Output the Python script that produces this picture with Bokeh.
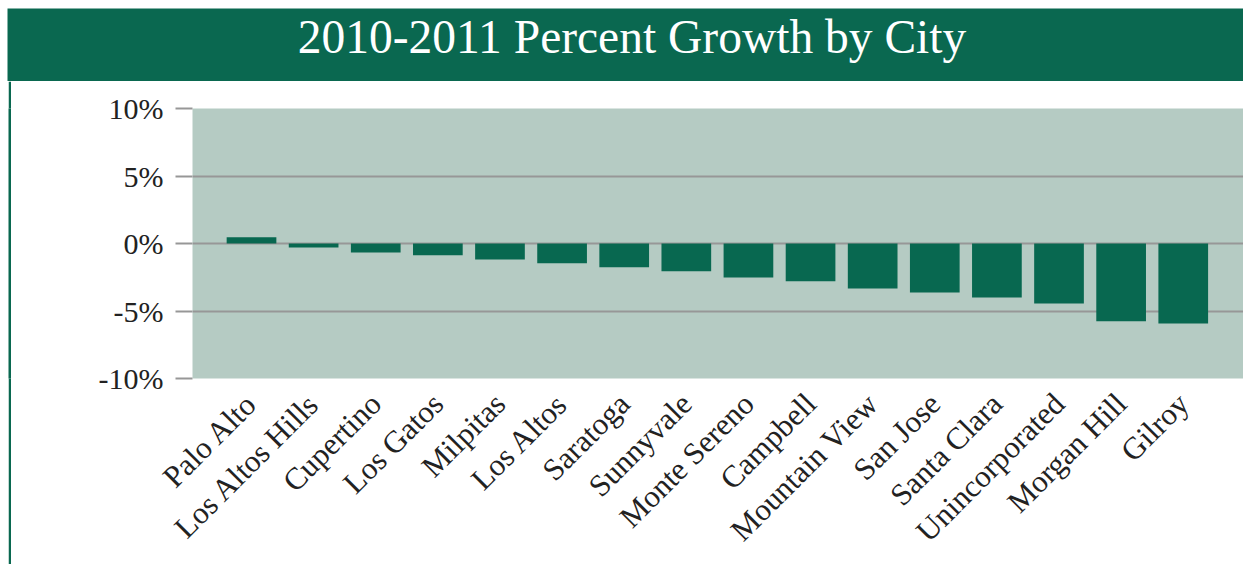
import math
from bokeh.plotting import figure
from bokeh.layouts import column, row
from bokeh.models import ColumnDataSource, Range1d, FixedTicker, PrintfTickFormatter, Spacer
from bokeh.core.properties import value
from bokeh.embed import file_html
from bokeh.resources import INLINE

cities = ["Palo Alto", "Los Altos Hills", "Cupertino", "Los Gatos", "Milpitas",
          "Los Altos", "Saratoga", "Sunnyvale", "Monte Sereno", "Campbell",
          "Mountain View", "San Jose", "Santa Clara", "Unincorporated",
          "Morgan Hill", "Gilroy"]
growth = [0.47, -0.3, -0.67, -0.87, -1.19, -1.46, -1.75, -2.05, -2.52, -2.8,
          -3.33, -3.63, -4.0, -4.44, -5.75, -5.93]
y_ticks = [-10, -5, 0, 5, 10]
title_text = "2010-2011 Percent Growth by City"

GREEN = "#0a6850"
BAR = "#086850"
BG = "#b5cbc3"
GRID = "#979797"
FONT = "Liberation Serif"

# Banner
banner = figure(width=1236, height=73, x_range=Range1d(0, 1236), y_range=Range1d(0, 73),
                title=None,
                output_backend="svg", toolbar_location=None, min_border=0,
                background_fill_color=GREEN, border_fill_color=GREEN, outline_line_color=None)
banner.axis.visible = False
banner.grid.visible = False
banner.text(x=[624.5], y=[45], text=[title_text], text_color="white",
            text_font=value(FONT), text_font_size="47.5px",
            text_align="center", text_baseline="alphabetic")

# Left green rule
rule = figure(width=3, height=483, title=None, output_backend="svg", toolbar_location=None, min_border=0,
              background_fill_color=GREEN, border_fill_color=GREEN, outline_line_color=None)
rule.axis.visible = False
rule.grid.visible = False

# Chart
src = ColumnDataSource(dict(x=list(range(len(cities))), top=growth))
p = figure(width=1232, height=483, x_range=Range1d(-0.95, 15.97), y_range=Range1d(-10, 10),
           output_backend="svg", toolbar_location=None,
           min_border_left=181, min_border_right=0, min_border_top=27, min_border_bottom=186,
           background_fill_color=BG, border_fill_color="white", outline_line_color=None)
p.vbar(x="x", top="top", bottom=0, width=0.8, source=src, fill_color=BAR, line_color=None)

p.xgrid.visible = False
p.ygrid.ticker = FixedTicker(ticks=y_ticks)
p.ygrid.grid_line_color = GRID
p.ygrid.grid_line_width = 2

p.yaxis.ticker = FixedTicker(ticks=y_ticks)
p.yaxis.formatter = PrintfTickFormatter(format="%d%%")
p.yaxis.axis_line_color = None
p.yaxis.major_tick_in = 0
p.yaxis.major_tick_out = 17
p.yaxis.major_tick_line_color = GRID
p.yaxis.major_tick_line_width = 2
p.yaxis.minor_tick_line_color = None
p.yaxis.major_label_standoff = 12
p.yaxis.major_label_text_font = FONT
p.yaxis.major_label_text_font_size = "30px"
p.yaxis.major_label_text_color = "#222222"

p.xaxis.ticker = FixedTicker(ticks=list(range(len(cities))))
p.xaxis.major_label_overrides = {i: c for i, c in enumerate(cities)}
p.xaxis.axis_line_color = None
p.xaxis.major_tick_line_color = None
p.xaxis.minor_tick_line_color = None
p.xaxis.major_label_orientation = math.pi / 4
p.xaxis.major_label_standoff = 14
p.xaxis.major_label_text_font = FONT
p.xaxis.major_label_text_font_size = "31px"
p.xaxis.major_label_text_color = "#222222"

layout = row(Spacer(width=7),
             column(Spacer(height=8), banner,
                    row(Spacer(width=1), rule, p, spacing=0), spacing=0),
             spacing=0)
open("out.html", "w").write(file_html(layout, INLINE))
